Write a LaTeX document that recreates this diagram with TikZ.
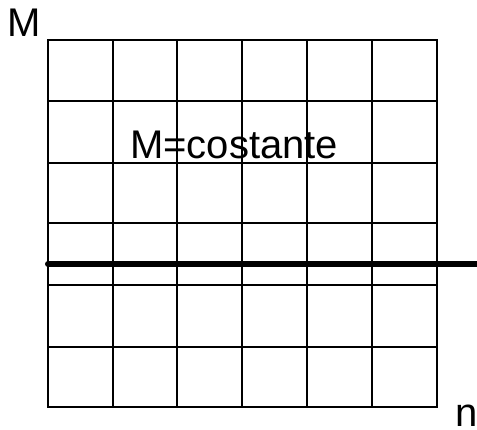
\documentclass[tikz,border=0pt]{standalone}
\usepackage{fontspec}
\setmainfont{Liberation Sans}
\begin{document}
\begin{tikzpicture}[x=1pt,y=-1pt,
  gridline/.style={line width=2.2pt,black},
  thickline/.style={line width=6pt,black,line cap=round},
  lbl/.style={anchor=base west,inner sep=0pt,font=\fontsize{40}{40}\selectfont}]
\useasboundingbox (0,0) rectangle (477,430);
\foreach \x in {48,113,177,242,307,372,437} \draw[gridline] (\x,40) -- (\x,407);
\foreach \y in {40,101,163,223,285,347,407} \draw[gridline] (48,\y) -- (437,\y);
\draw[gridline,line cap=rect] (48,40) rectangle (437,407);
\coordinate (tl) at (48,264);
\coordinate (tr) at (480,264);
\draw[thickline] (tl) -- (tr);
\node[lbl] (ylab) at (7.5,37) {M};
\node[lbl] (mc) at (130,159) {M=costante};
\node[lbl] (xlab) at (455.5,427) {n};
\end{tikzpicture}
\end{document}
